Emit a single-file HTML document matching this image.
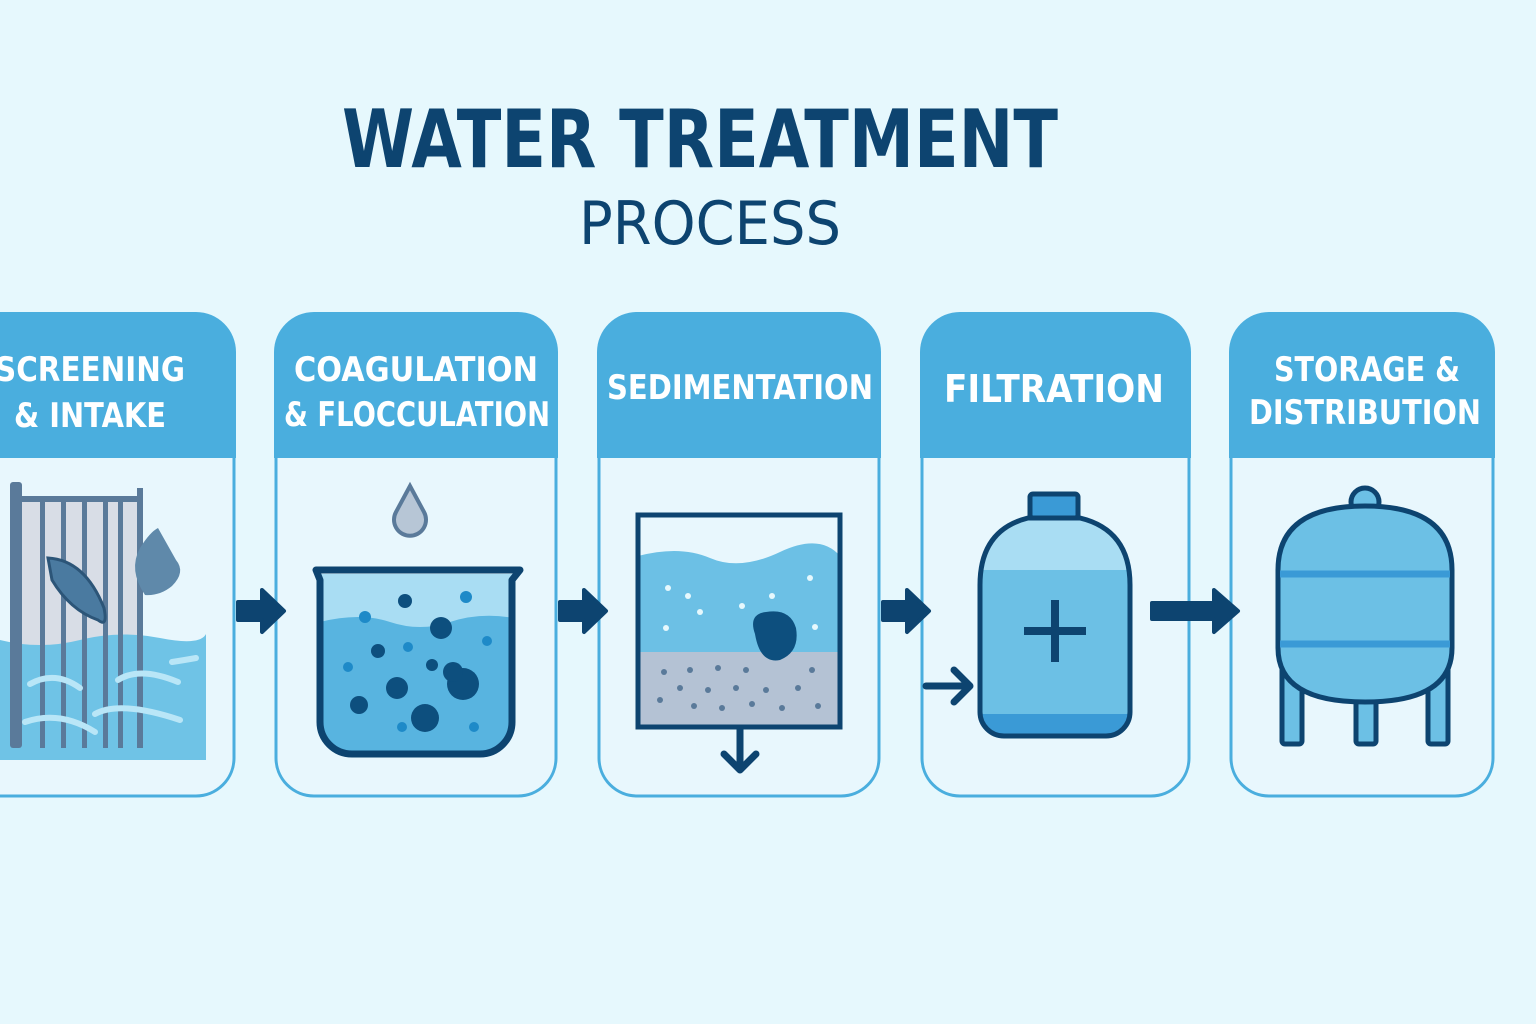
<!DOCTYPE html>
<html><head><style>
html,body{margin:0;padding:0;background:#e6f8fd;}
svg{display:block}
text{font-family:"DejaVu Sans","Liberation Sans",sans-serif;font-weight:bold}
</style></head><body>
<svg width="1536" height="1024" viewBox="0 0 1536 1024">
<rect width="1536" height="1024" fill="#e6f8fd"/>
<text x="700" y="167" text-anchor="middle" font-size="80" fill="#0d4470" textLength="716" lengthAdjust="spacingAndGlyphs">WATER TREATMENT</text>
<text x="710" y="244" text-anchor="middle" font-size="60" fill="#0d4470" style="font-weight:normal" textLength="262" lengthAdjust="spacingAndGlyphs">PROCESS</text>

<g stroke="#4aaede" stroke-width="3">
<path d="M-40,314 H196 a38,38 0 0 1 38,38 V758 a38,38 0 0 1 -38,38 H-40 Z" fill="#e8f7fd"/>
<path d="M314,314 H518 a38,38 0 0 1 38,38 V758 a38,38 0 0 1 -38,38 H314 a38,38 0 0 1 -38,-38 V352 a38,38 0 0 1 38,-38 Z" fill="#e8f7fd"/>
<path d="M637,314 H841 a38,38 0 0 1 38,38 V758 a38,38 0 0 1 -38,38 H637 a38,38 0 0 1 -38,-38 V352 a38,38 0 0 1 38,-38 Z" fill="#e8f7fd"/>
<path d="M960,314 H1151 a38,38 0 0 1 38,38 V758 a38,38 0 0 1 -38,38 H960 a38,38 0 0 1 -38,-38 V352 a38,38 0 0 1 38,-38 Z" fill="#e8f7fd"/>
<path d="M1269,314 H1455 a38,38 0 0 1 38,38 V758 a38,38 0 0 1 -38,38 H1269 a38,38 0 0 1 -38,-38 V352 a38,38 0 0 1 38,-38 Z" fill="#e8f7fd"/>
</g>
<g fill="#4aaede">
<path d="M-40,312 H196 a40,40 0 0 1 40,40 V458 H-40 Z"/>
<path d="M314,312 H518 a40,40 0 0 1 40,40 V458 H274 V352 a40,40 0 0 1 40,-40 Z"/>
<path d="M637,312 H841 a40,40 0 0 1 40,40 V458 H597 V352 a40,40 0 0 1 40,-40 Z"/>
<path d="M960,312 H1151 a40,40 0 0 1 40,40 V458 H920 V352 a40,40 0 0 1 40,-40 Z"/>
<path d="M1269,312 H1455 a40,40 0 0 1 40,40 V458 H1229 V352 a40,40 0 0 1 40,-40 Z"/>
</g>
<g fill="#fff" font-size="34" text-anchor="middle">
<text x="90" y="381" textLength="190" lengthAdjust="spacingAndGlyphs">SCREENING</text>
<text x="90" y="427" textLength="152" lengthAdjust="spacingAndGlyphs">&amp; INTAKE</text>
<text x="416" y="381" textLength="244" lengthAdjust="spacingAndGlyphs">COAGULATION</text>
<text x="417" y="426" textLength="266" lengthAdjust="spacingAndGlyphs">&amp; FLOCCULATION</text>
<text x="740" y="399" textLength="266" lengthAdjust="spacingAndGlyphs">SEDIMENTATION</text>
<text x="1054" y="402" font-size="38" textLength="220" lengthAdjust="spacingAndGlyphs">FILTRATION</text>
<text x="1367" y="381" textLength="186" lengthAdjust="spacingAndGlyphs">STORAGE &amp;</text>
<text x="1365" y="424" textLength="232" lengthAdjust="spacingAndGlyphs">DISTRIBUTION</text>
</g>

<g fill="#0d4470" stroke="#0d4470" stroke-linejoin="round">
<path d="M238,602 H262 V590 L284,611 L262,632 V620 H238 Z" stroke-width="4"/>
<path d="M560,602 H584 V590 L606,611 L584,632 V620 H560 Z" stroke-width="4"/>
<path d="M883,602 H907 V590 L929,611 L907,632 V620 H883 Z" stroke-width="4"/>
<path d="M1152,603 H1214 V590 L1238,611 L1214,632 V619 H1152 Z" stroke-width="4"/>
</g>
<path d="M926,686 H966 M954,670 L970,686 L954,702" stroke="#0d4470" stroke-width="7" fill="none" stroke-linecap="round" stroke-linejoin="round"/>

<rect x="14" y="500" width="128" height="250" fill="#d8dde6"/>
<path d="M0,640 Q40,650 80,640 T160,638 T206,634 V760 H0 Z" fill="#6fc3e6"/>
<g fill="#5a7a9a">
<rect x="10" y="482" width="12" height="266" rx="3"/>
<rect x="22" y="496" width="120" height="6"/>
<rect x="137" y="488" width="6" height="260"/>
<rect x="40" y="500" width="5" height="248"/><rect x="61" y="500" width="5" height="248"/><rect x="82" y="500" width="5" height="248"/><rect x="103" y="500" width="5" height="248"/><rect x="118" y="500" width="5" height="248"/>
</g>
<g stroke="#b9e6f7" stroke-width="6" fill="none" stroke-linecap="round">
<path d="M30,684 Q55,670 80,688"/><path d="M118,680 Q140,666 178,682"/><path d="M172,662 Q185,660 196,658"/>
<path d="M25,722 Q60,710 95,732"/><path d="M95,714 Q120,700 180,720"/>
</g>
<path d="M48,558 Q85,560 104,608 Q108,628 98,620 Q70,610 52,580 Z" fill="#4a7aa0" stroke="#2c5578" stroke-width="3"/>
<path d="M145,595 Q128,570 140,548 Q150,532 158,528 L176,560 Q186,572 172,586 Q160,596 145,595 Z" fill="#5f89aa"/>

<path d="M410,486 L424,512 A16,16 0 1 1 396,512 Z" fill="#b7c6d6" stroke="#5a7a9a" stroke-width="4"/>
<path d="M318,574 H514 V722 a32,32 0 0 1 -32,32 H352 a32,32 0 0 1 -32,-32 Z" fill="#a9ddf3"/>
<path d="M320,622 Q360,612 390,622 T450,622 T514,618 V722 a32,32 0 0 1 -32,32 H352 a32,32 0 0 1 -32,-32 Z" fill="#58b4e0"/>
<path d="M316,570 H520 L512,580 V722 a32,32 0 0 1 -32,32 H352 a32,32 0 0 1 -32,-32 V580 Z" fill="none" stroke="#0d4470" stroke-width="7" stroke-linejoin="round"/>
<g fill="#0d4f7e">
<circle cx="405" cy="601" r="7"/><circle cx="441" cy="628" r="11"/><circle cx="378" cy="651" r="7"/><circle cx="432" cy="665" r="6"/><circle cx="397" cy="688" r="11"/><circle cx="359" cy="705" r="9"/>
<circle cx="463" cy="684" r="16"/><circle cx="453" cy="672" r="10"/><circle cx="425" cy="718" r="14"/>
</g>
<g fill="#1e8ac8"><circle cx="466" cy="597" r="6"/><circle cx="365" cy="617" r="6"/><circle cx="408" cy="647" r="5"/><circle cx="487" cy="641" r="5"/><circle cx="348" cy="667" r="5"/><circle cx="402" cy="727" r="5"/><circle cx="474" cy="727" r="5"/></g>

<rect x="638" y="515" width="202" height="212" fill="#e8f7fd"/>
<path d="M638,556 Q680,545 710,558 T780,552 T840,556 V652 H638 Z" fill="#6cc0e5"/>
<rect x="638" y="652" width="202" height="75" fill="#b4c2d4"/>
<rect x="638" y="515" width="202" height="212" fill="none" stroke="#0d4470" stroke-width="5"/>
<path d="M755,634 Q748,614 766,612 Q790,608 796,628 Q800,652 780,660 Q760,664 755,634 Z" fill="#0d4f7e"/>
<g fill="#e6f8fd"><circle cx="668" cy="588" r="3"/><circle cx="688" cy="596" r="3"/><circle cx="700" cy="612" r="3"/><circle cx="742" cy="606" r="3"/><circle cx="772" cy="596" r="3"/><circle cx="666" cy="628" r="3"/><circle cx="810" cy="578" r="3"/><circle cx="815" cy="627" r="3"/></g>
<g fill="#5a7a9a"><circle cx="664" cy="672" r="3"/><circle cx="690" cy="670" r="3"/><circle cx="718" cy="668" r="3"/><circle cx="746" cy="670" r="3"/><circle cx="812" cy="670" r="3"/><circle cx="680" cy="688" r="3"/><circle cx="708" cy="690" r="3"/><circle cx="736" cy="688" r="3"/><circle cx="766" cy="690" r="3"/><circle cx="798" cy="688" r="3"/><circle cx="660" cy="700" r="3"/><circle cx="694" cy="706" r="3"/><circle cx="722" cy="708" r="3"/><circle cx="752" cy="704" r="3"/><circle cx="782" cy="708" r="3"/><circle cx="818" cy="706" r="3"/></g>
<path d="M740,728 V768 M724,754 L740,770 L756,754" stroke="#0d4470" stroke-width="7" fill="none" stroke-linecap="round" stroke-linejoin="round"/>

<rect x="1030" y="494" width="48" height="24" rx="3" fill="#3a9ad6" stroke="#0d4470" stroke-width="5"/>
<path d="M1028,518 H1080 Q1130,530 1130,585 V712 a24,24 0 0 1 -24,24 H1004 a24,24 0 0 1 -24,-24 V585 Q980,530 1028,518 Z" fill="#a9ddf3"/>
<path d="M980,570 H1130 V712 a24,24 0 0 1 -24,24 H1004 a24,24 0 0 1 -24,-24 Z" fill="#6cc0e5"/>
<path d="M980,714 H1130 a24,24 0 0 1 -24,22 H1004 a24,24 0 0 1 -24,-22 Z" fill="#3a9ad6"/>
<path d="M1028,518 H1080 Q1130,530 1130,585 V712 a24,24 0 0 1 -24,24 H1004 a24,24 0 0 1 -24,-24 V585 Q980,530 1028,518 Z" fill="none" stroke="#0d4470" stroke-width="5"/>
<path d="M1055,600 V662 M1024,631 H1086" stroke="#0d4470" stroke-width="8"/>

<circle cx="1365" cy="502" r="14" fill="#6cc0e5" stroke="#0d4470" stroke-width="5"/>
<g fill="#6cc0e5" stroke="#0d4470" stroke-width="5">
<rect x="1282" y="660" width="20" height="84" rx="3"/><rect x="1356" y="690" width="20" height="54" rx="3"/><rect x="1428" y="660" width="20" height="84" rx="3"/>
</g>
<path d="M1278,570 Q1278,506 1365,506 Q1452,506 1452,570 V648 Q1452,702 1365,702 Q1278,702 1278,648 Z" fill="#6cc0e5" stroke="#0d4470" stroke-width="5"/>
<path d="M1280,574 H1450 M1280,644 H1450" stroke="#3a9ad6" stroke-width="7"/>
</svg>
</body></html>
